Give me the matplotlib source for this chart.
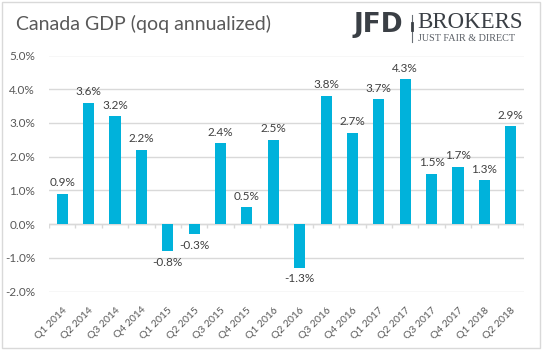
import matplotlib
matplotlib.use("Agg")
import matplotlib.pyplot as plt
from matplotlib.patches import Rectangle
from matplotlib.lines import Line2D
import numpy as np

# data
quarters = ["Q1 2014", "Q2 2014", "Q3 2014", "Q4 2014",
            "Q1 2015", "Q2 2015", "Q3 2015", "Q4 2015",
            "Q1 2016", "Q2 2016", "Q3 2016", "Q4 2016",
            "Q1 2017", "Q2 2017", "Q3 2017", "Q4 2017",
            "Q1 2018", "Q2 2018"]
gdp_qoq = [0.9, 3.6, 3.2, 2.2,
           -0.8, -0.3, 2.4, 0.5,
           2.5, -1.3, 3.8, 2.7,
           3.7, 4.3, 1.5, 1.7,
           1.3, 2.9]
y_ticks = [-2, -1, 0, 1, 2, 3, 4, 5]

bar_color = "#00B2DB"
text_color = "#595959"
grid_color = "#D9D9D9"

plt.rcParams['font.family'] = ['Lato', 'DejaVu Sans']

W, H = 543, 351
fig = plt.figure(figsize=(W / 100, H / 100), dpi=100)
ax = fig.add_axes([49 / W, 1 - 291.5 / H, 475 / W, 236 / H])

x = np.arange(len(quarters))
ax.bar(x, gdp_qoq, width=0.42, color=bar_color, zorder=3)

ax.set_xlim(-0.5, len(quarters) - 0.5)
ax.set_ylim(-2, 5)
ax.set_yticks(y_ticks)
ax.set_yticklabels([f"{v:.1f}%" for v in y_ticks])
ax.yaxis.grid(True, color=grid_color, linewidth=1, zorder=0)
ax.tick_params(axis='y', length=0, pad=10, labelsize=8.5, labelcolor=text_color)

ax.set_xticks(x)
ax.set_xticklabels(quarters, rotation=45, ha='right', rotation_mode='anchor')
ax.tick_params(axis='x', length=0, pad=10, labelsize=7.5, labelcolor=text_color)

for s in ax.spines.values():
    s.set_visible(False)

# zero line with category tick marks
ax.axhline(0, color=grid_color, linewidth=1, zorder=2)
bounds = np.arange(len(quarters) + 1) - 0.5
ax.vlines(bounds, -0.12, 0, color=grid_color, linewidth=1, zorder=2)

# value labels
for xi, v in zip(x, gdp_qoq):
    if v >= 0:
        ax.annotate(f"{v:.1f}%", (xi, v), xytext=(0, 4), textcoords='offset points',
                    ha='center', va='bottom', fontsize=8.5, color="#404040")
    else:
        ax.annotate(f"{v:.1f}%", (xi, v), xytext=(0, -4), textcoords='offset points',
                    ha='center', va='top', fontsize=8.5, color="#404040")

# title
fig.text(16 / W, 1 - 24 / H, "Canada GDP (qoq annualized)", fontsize=14,
         color=text_color, ha='left', va='center')

# logo
fig.text(403 / W, 1 - 25 / H, "JFD", fontsize=19, fontweight='heavy',
         color="#3A3F45", ha='right', va='center', family='DejaVu Sans')
fig.add_artist(Line2D([412 / W, 412 / W], [1 - 15 / H, 1 - 42 / H],
                      color="#6A6F76", linewidth=0.8))
fig.add_artist(Line2D([412 / W, 412 / W], [1 - 23 / H, 1 - 30 / H],
                      color="#3A3F45", linewidth=2))
fig.text(417 / W, 1 - 22.5 / H, "BROKERS", fontsize=16.5, color="#3A3F45",
         ha='left', va='center', family='Liberation Serif')
fig.text(418 / W, 1 - 38.5 / H, "JUST FAIR & DIRECT", fontsize=7.3, color="#5A5F66",
         ha='left', va='center', family='Liberation Serif')

# outer border
fig.add_artist(Rectangle((2 / W, 3 / H), 538 / W, 346 / H, fill=False,
                         edgecolor=grid_color, linewidth=1, transform=fig.transFigure))

fig.savefig("out.png", dpi=100)
